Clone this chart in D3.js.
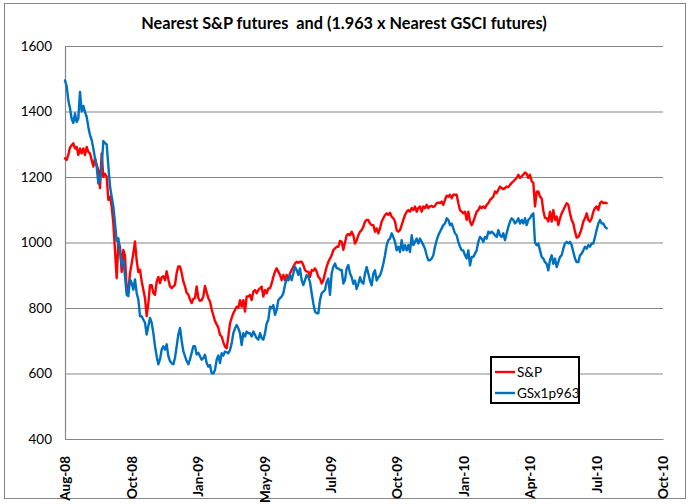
<!DOCTYPE html>
<html><head><meta charset="utf-8">
<script src="https://cdn.jsdelivr.net/npm/d3@7"></script>
<style>body{margin:0;background:#fff}</style>
</head><body>
<svg id="chart" width="690" height="504"></svg>
<script>
const titleText = "Nearest S&P futures  and (1.963 x Nearest GSCI futures)";
const seriesNames = ["S&P", "GSx1p963"];
const seriesColors = ["#ff0000", "#0070c0"];
const yTicks = [400, 600, 800, 1000, 1200, 1400, 1600];
const xTickDates = ["2008-08-01","2008-10-31","2009-01-30","2009-05-01","2009-07-31","2009-10-30","2010-01-29","2010-04-30","2010-07-30","2010-10-29"];
const startDate = "2008-08-01";
const stepDays = 2.2826;

const spValues = [
1257,1252,1268,1290,1297,1303,1287,1292,1267,1287,
1272,1287,1267,1292,1277,1272,1252,1232,1257,1237,
1221,1166,1272,1200,1210,1201,1130,1140,1110,1059,
975,891,1000,987,910,977,960,856,850,907,
935,967,1003,945,910,917,882,856,830,775,
815,870,870,846,840,880,895,876,894,897,
885,912,887,866,861,866,871,907,927,927,
907,881,866,846,841,826,815,828,830,866,
830,822,824,835,867,848,830,820,796,778,
760,750,740,718,713,695,682,677,713,753,
770,784,794,804,801,824,804,824,789,835,
835,840,824,850,855,845,855,860,865,835,
855,845,860,860,875,895,911,921,911,901,
885,901,885,901,885,906,916,926,936,941,
938,941,941,931,916,911,911,895,916,914,
921,911,895,890,875,885,906,926,941,951,
961,977,982,987,987,1005,1002,978,1000,1022,
1026,1022,1033,1022,997,1007,1022,1033,1038,1048,
1064,1069,1069,1058,1053,1053,1033,1043,1028,1043,
1064,1074,1084,1089,1084,1091,1079,1074,1064,1038,
1033,1038,1053,1069,1084,1094,1099,1094,1105,1099,
1110,1094,1105,1110,1094,1110,1105,1115,1105,1110,
1112,1108,1112,1120,1122,1120,1125,1115,1130,1143,
1140,1146,1135,1146,1146,1146,1120,1099,1094,1089,
1094,1069,1094,1064,1053,1064,1079,1094,1099,1110,
1105,1110,1105,1115,1120,1130,1135,1140,1156,1151,
1161,1171,1166,1163,1166,1171,1169,1176,1182,1187,
1192,1197,1207,1197,1202,1207,1214,1210,1197,1207,
1187,1182,1110,1155,1156,1140,1135,1097,1075,1074,
1064,1094,1064,1099,1069,1079,1053,1074,1089,1099,
1110,1120,1115,1089,1069,1058,1033,1015,1017,1028,
1043,1064,1074,1089,1069,1064,1074,1094,1105,1110,
1099,1120,1125,1120,1122,1120
];

const gsValues = [
1495,1477,1434,1410,1378,1365,1394,1368,1379,1460,
1400,1417,1399,1384,1353,1328,1313,1287,1257,1232,
1180,1191,1232,1310,1303,1300,1235,1171,1140,1110,
1059,1005,1013,975,930,947,897,841,836,887,
877,856,887,846,826,775,775,765,755,719,
744,770,755,724,683,653,628,643,673,683,
673,689,653,638,631,628,648,683,719,739,
700,668,653,638,628,643,663,683,683,658,
663,653,642,647,657,632,621,626,601,600,
611,642,655,632,662,655,667,665,662,672,
692,723,738,748,738,723,687,723,713,728,
723,723,713,728,718,708,703,723,708,703,
723,753,764,804,799,809,779,794,824,830,
835,845,870,890,885,901,885,906,926,916,
901,921,885,870,885,901,895,880,845,814,
789,784,784,824,845,850,855,880,890,840,
906,926,936,921,921,916,916,875,885,921,
931,906,894,874,884,858,874,894,879,874,
905,925,905,884,869,905,915,884,894,899,
915,935,961,992,1007,1012,1028,1017,1002,976,
987,971,1007,976,992,976,992,971,1022,992,
1002,1012,997,1012,1002,992,981,961,946,946,
951,961,987,1007,1022,1033,1043,1053,1058,1074,
1069,1053,1058,1043,1028,1022,1002,987,976,976,
961,951,976,930,956,956,966,976,1002,1017,
1012,1002,1017,1012,1033,1028,1033,1028,1022,1017,
1038,1022,1017,1028,1007,1028,1048,1064,1074,1069,
1058,1064,1074,1058,1069,1058,1074,1053,1069,1074,
1084,1089,1000,992,997,976,956,951,940,935,
915,946,961,935,951,925,940,956,961,981,
997,1002,997,1002,992,971,951,940,940,961,
966,976,987,981,992,987,997,997,1017,1038,
1058,1069,1058,1058,1048,1043
];

const parse = d3.timeParse("%Y-%m-%d");
const start = parse(startDate);
const dates = spValues.map((_, i) => new Date(start.getTime() + i * stepDays * 864e5));
const tickDates = xTickDates.map(parse);

const svg = d3.select("#chart");
const font = "Lato, 'Open Sans', sans-serif";
const m = {left: 65, right: 663, top: 46, bottom: 439};

// outer border
svg.append("rect").attr("x", 4.5).attr("y", 3.5).attr("width", 681).attr("height", 495)
  .attr("fill", "#fff").attr("stroke", "#868686").attr("stroke-width", 1);

const x = d3.scaleTime().domain([tickDates[0], tickDates[tickDates.length - 1]]).range([m.left, m.right]);
const y = d3.scaleLinear().domain([400, 1600]).range([m.bottom, m.top]);

// gridlines
svg.append("g").attr("transform", `translate(${m.left},0)`)
  .call(d3.axisRight(y).tickValues(yTicks).tickSize(m.right - m.left).tickFormat(""))
  .call(g => g.select(".domain").remove())
  .call(g => g.selectAll("line").attr("stroke", "#868686").attr("stroke-width", 1.2));

// y axis
svg.append("g").attr("transform", `translate(${m.left},0)`)
  .call(d3.axisLeft(y).tickValues(yTicks).tickSize(0).tickPadding(13).tickFormat(d3.format("d")))
  .call(g => g.select(".domain").attr("stroke", "#868686").attr("stroke-width", 1.2))
  .call(g => g.selectAll("text").attr("font-family", font).attr("font-size", 13.5).attr("fill", "#000"));

// x axis
svg.append("g").attr("transform", `translate(0,${m.bottom})`)
  .call(d3.axisBottom(x).tickValues(tickDates).tickSize(0).tickFormat(d3.timeFormat("%b-%y")))
  .call(g => g.select(".domain").attr("stroke", "#868686").attr("stroke-width", 1.2))
  .call(g => g.selectAll("text")
    .attr("transform", "rotate(-90)").attr("x", -17).attr("y", 0).attr("dy", "0.35em")
    .style("text-anchor", "end").attr("font-family", font).attr("font-size", 13.5)
    .attr("font-weight", "bold").attr("fill", "#000"));

// lines
const line = d3.line().x((d, i) => x(dates[i])).y(d => y(d));
[spValues, gsValues].forEach((vals, k) => {
  svg.append("path").datum(vals).attr("d", line).attr("fill", "none")
    .attr("stroke", seriesColors[k]).attr("stroke-width", 2.4)
    .attr("stroke-linejoin", "round").attr("stroke-linecap", "round");
});

// title
svg.append("text").attr("x", 344).attr("y", 29).attr("text-anchor", "middle")
  .style("white-space", "pre").attr("font-family", font).attr("font-size", 16.3)
  .attr("font-weight", "bold").text(titleText);

// legend
const lg = svg.append("g");
lg.append("rect").attr("x", 491).attr("y", 357).attr("width", 88).attr("height", 46)
  .attr("fill", "#fff").attr("stroke", "#000").attr("stroke-width", 2);
seriesNames.forEach((name, k) => {
  const ly = 372 + k * 21;
  lg.append("line").attr("x1", 495).attr("x2", 515).attr("y1", ly).attr("y2", ly)
    .attr("stroke", seriesColors[k]).attr("stroke-width", 2.4);
  lg.append("text").attr("x", 517).attr("y", ly).attr("dy", "0.35em")
    .attr("font-family", font).attr("font-size", 13.5).text(name);
});
</script>
</body></html>
